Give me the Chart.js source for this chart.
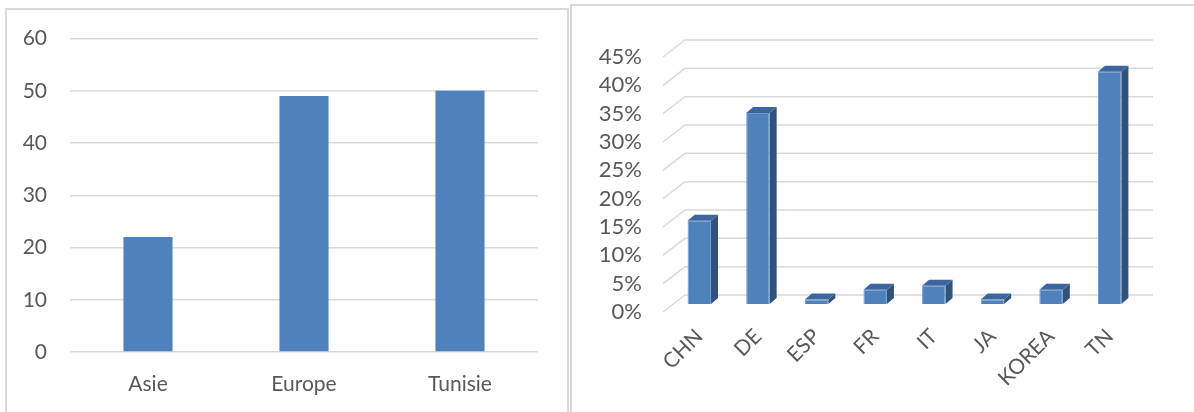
<!DOCTYPE html>
<html>
<head>
<meta charset="utf-8">
<script src="https://cdn.jsdelivr.net/npm/chart.js@4.4.0/dist/chart.umd.min.js"></script>
<style>
  body { margin: 0; background: #fff; width: 1194px; height: 412px; overflow: hidden; position: relative; }
  .panel { position: absolute; border: 2px solid #d9d9d9; box-sizing: border-box; }
  #leftPanel { left: 5px; top: 8px; width: 564px; height: 430px; }
  #rightPanel { left: 570px; top: 4px; width: 640px; height: 430px; }
  canvas { position: absolute; }
  #regionChart { left: 7px; top: 3px; }
  #countryChart { left: 572px; top: 6px; }
</style>
</head>
<body>
<div class="panel" id="leftPanel"></div>
<div class="panel" id="rightPanel"></div>
<canvas id="regionChart" width="559" height="409"></canvas>
<canvas id="countryChart" width="622" height="406"></canvas>
<script>
// données
var regionLabels = ['Asie', 'Europe', 'Tunisie'];
var regionValues = [22, 49, 50];
var regionTicks = [0, 10, 20, 30, 40, 50, 60];

var countryLabels = ['CHN', 'DE', 'ESP', 'FR', 'IT', 'JA', 'KOREA', 'TN'];
var countryShares = [14.7, 33.7, 0.8, 2.5, 3.2, 0.8, 2.5, 41];
var shareTicks = [0, 5, 10, 15, 20, 25, 30, 35, 40, 45];

var textColor = '#595959';
var gridColor = '#d9d9d9';
var barBlue = '#4f81bd';
Chart.defaults.font.family = 'Lato, "Open Sans", sans-serif';
Chart.defaults.font.size = 21;
Chart.defaults.color = textColor;

// graphique de gauche : barres simples
new Chart(document.getElementById('regionChart'), {
	type: 'bar',
	data: {
		labels: regionLabels,
		datasets: [{
			data: regionValues,
			backgroundColor: barBlue,
			barPercentage: 0.315,
			categoryPercentage: 1
		}]
	},
	options: {
		responsive: false,
		animation: false,
		layout: { padding: { top: 20, right: 28, left: 0, bottom: 0 } },
		plugins: { legend: { display: false }, tooltip: { enabled: false } },
		scales: {
			x: {
				grid: { display: false },
				border: { display: false },
				ticks: { padding: 12, maxRotation: 0 },
				afterFit: function(s) { s.height = 60; }
			},
			y: {
				min: 0,
				max: 60,
				afterBuildTicks: function(s) { s.ticks = regionTicks.map(function(v) { return { value: v }; }); },
				grid: { color: gridColor, lineWidth: 1.5, drawTicks: false },
				border: { display: false },
				ticks: { padding: 23 },
				afterFit: function(s) { s.width = 63; }
			}
		}
	}
});

// effet 3D : grille inclinée en arrière-plan
var backGrid = {
	id: 'backGrid',
	beforeDatasetsDraw: function(chart) {
		var ctx = chart.ctx, area = chart.chartArea, ys = chart.scales.y;
		ctx.save();
		ctx.strokeStyle = gridColor;
		ctx.lineWidth = 1.5;
		ys.ticks.forEach(function(t) {
			var py = ys.getPixelForValue(t.value);
			ctx.beginPath();
			ctx.moveTo(area.left - 7, py + 8);
			ctx.lineTo(area.left + 15, py - 9);
			ctx.lineTo(area.right + 14, py - 9);
			ctx.stroke();
		});
		ctx.restore();
	}
};

// effet 3D : faces latérale et supérieure des barres
var barDepth = {
	id: 'barDepth',
	afterDatasetsDraw: function(chart) {
		var ctx = chart.ctx;
		var dx = 7, dy = -6;
		ctx.save();
		chart.getDatasetMeta(0).data.forEach(function(bar) {
			var p = bar.getProps(['x', 'y', 'base', 'width'], true);
			var l = p.x - p.width / 2, r = p.x + p.width / 2;
			ctx.fillStyle = '#30527d';
			ctx.beginPath();
			ctx.moveTo(r, p.y);
			ctx.lineTo(r + dx, p.y + dy);
			ctx.lineTo(r + dx, p.base + dy);
			ctx.lineTo(r, p.base);
			ctx.closePath();
			ctx.fill();
			ctx.fillStyle = '#3c669d';
			ctx.beginPath();
			ctx.moveTo(l, p.y);
			ctx.lineTo(l + dx, p.y + dy);
			ctx.lineTo(r + dx, p.y + dy);
			ctx.lineTo(r, p.y);
			ctx.closePath();
			ctx.fill();
		});
		ctx.restore();
	}
};

// graphique de droite : barres 3D en pourcentage
new Chart(document.getElementById('countryChart'), {
	type: 'bar',
	data: {
		labels: countryLabels,
		datasets: [{
			data: countryShares,
			backgroundColor: barBlue,
			borderColor: '#6a97cf',
			borderWidth: 1,
			barPercentage: 0.4,
			categoryPercentage: 1
		}]
	},
	options: {
		responsive: false,
		animation: false,
		layout: { padding: { top: 43, right: 55, left: 0, bottom: 0 } },
		plugins: { legend: { display: false }, tooltip: { enabled: false } },
		scales: {
			x: {
				grid: { display: false },
				border: { display: false },
				ticks: { padding: 12, minRotation: 45, maxRotation: 45 },
				afterFit: function(s) { s.height = 108; }
			},
			y: {
				min: 0,
				max: 45,
				afterBuildTicks: function(s) { s.ticks = shareTicks.map(function(v) { return { value: v }; }); },
				grid: { display: false },
				border: { display: false },
				ticks: {
					padding: 20,
					labelOffset: 8,
					autoSkip: false,
					font: { size: 22 },
					callback: function(v) { return v + '%'; }
				},
				afterFit: function(s) { s.width = 98; }
			}
		}
	},
	plugins: [backGrid, barDepth]
});
</script>
</body>
</html>
